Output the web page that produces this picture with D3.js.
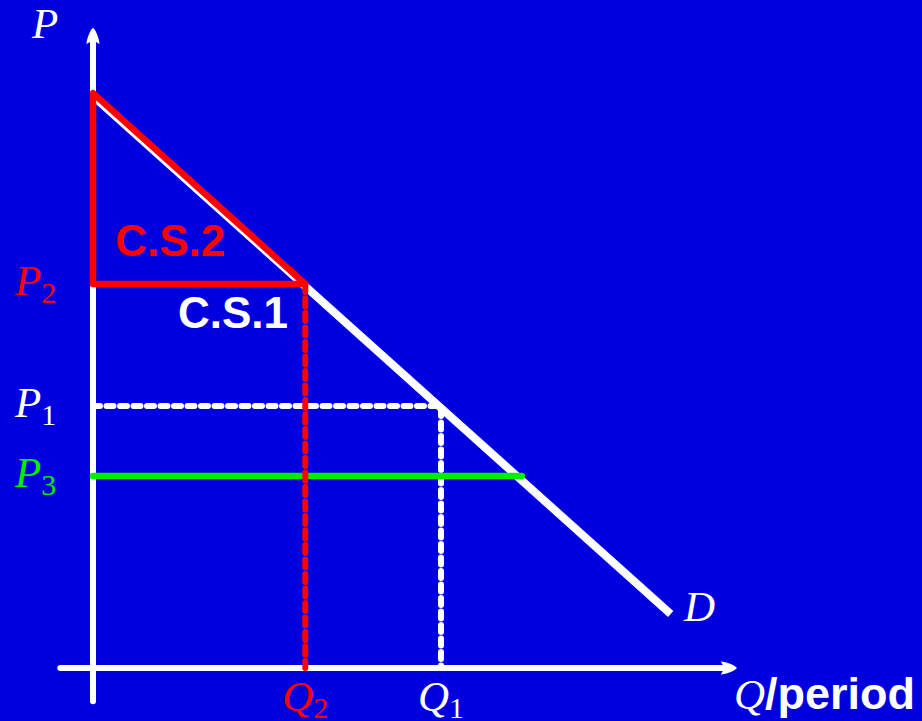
<!DOCTYPE html>
<html>
<head>
<meta charset="utf-8">
<script src="https://cdn.jsdelivr.net/npm/d3@7"></script>
<style>
html,body{margin:0;padding:0;background:#0000df;}
svg{display:block;}
</style>
</head>
<body>
<svg id="chart" width="922" height="721"></svg>
<script>
// ---- data ----
const demandQ = [0, 8.3];
const demandP = [14.3, 1.35];
const cs2Q = [0, 0, 3.05];
const cs2P = [14.37, 9.6, 9.6];
const priceNames = ["P1", "P2", "P3"];
const priceValues = [6.55, 9.6, 4.8];
const quantityNames = ["Q1", "Q2"];
const quantityValues = [5, 3.05];
const p3LineEndQ = 6.16;
const areaNames = ["C.S.2", "C.S.1"];
const areaQ = [0.32, 1.22];
const areaP = [10.3, 8.5];
const axisQ = [-0.47, 9.25];
const axisP = [-0.83, 16.0];

// ---- scales ----
const x = d3.scaleLinear().domain([0, 5]).range([93, 441]);
const y = d3.scaleLinear().domain([0, 16]).range([668, 28]);

const svg = d3.select("#chart");
svg.append("rect").attr("width", 922).attr("height", 721).attr("fill", "#0000df");

const WHITE = "#ffffff", RED = "#ff0000", GREEN = "#00ee00";
const serif = "'Liberation Serif','Times New Roman',serif";
const sans = "'Liberation Sans',Arial,sans-serif";

const line = d3.line().x(d => x(d[0])).y(d => y(d[1]));

// axes
svg.append("line").attr("x1", x(0)).attr("x2", x(0))
  .attr("y1", y(axisP[0])).attr("y2", y(axisP[1]) + 12)
  .attr("stroke", WHITE).attr("stroke-width", 6).attr("stroke-linecap", "round");
svg.append("line").attr("x1", x(axisQ[0])).attr("x2", x(axisQ[1]) - 12)
  .attr("y1", y(0)).attr("y2", y(0))
  .attr("stroke", WHITE).attr("stroke-width", 6).attr("stroke-linecap", "round");
const arrowPath = "M0,0 C2,0 6.5,11 6.5,16 L3,14 L-3,14 L-6.5,16 C-6.5,11 -2,0 0,0 Z";
svg.append("path").attr("d", arrowPath).attr("fill", WHITE)
  .attr("transform", `translate(${x(0)},${y(axisP[1])})`);
svg.append("path").attr("d", arrowPath).attr("fill", WHITE)
  .attr("transform", `translate(${x(axisQ[1])},${y(0)}) rotate(90)`);

// demand line
svg.append("path").datum(demandQ.map((q, i) => [q, demandP[i]]))
  .attr("d", line).attr("fill", "none").attr("stroke", WHITE)
  .attr("stroke-width", 8).attr("stroke-linecap", "butt");

// white dashed P1/Q1
const p1 = priceValues[0], q1 = quantityValues[0];
svg.append("path").datum([[0, p1], [q1, p1], [q1, 0]])
  .attr("d", line).attr("fill", "none").attr("stroke", WHITE)
  .attr("stroke-width", 6).attr("stroke-dasharray", "7 6.5").attr("stroke-linecap", "round");

// green P3 line
const p3 = priceValues[2];
svg.append("path").datum([[0, p3], [p3LineEndQ, p3]])
  .attr("d", line).attr("fill", "none").attr("stroke", GREEN)
  .attr("stroke-width", 6.5).attr("stroke-linecap", "round");

// red dashed Q2
const p2 = priceValues[1], q2 = quantityValues[1];
svg.append("path").datum([[q2, p2], [q2, 0]])
  .attr("d", line).attr("fill", "none").attr("stroke", RED)
  .attr("stroke-width", 6).attr("stroke-dasharray", "8 6.5").attr("stroke-linecap", "round");

// red CS2 triangle
svg.append("path").datum(cs2Q.map((q, i) => [q, cs2P[i]]))
  .attr("d", d => line(d) + "Z").attr("fill", "none").attr("stroke", RED)
  .attr("stroke-width", 6.5).attr("stroke-linejoin", "round");

// price labels
const priceColors = [WHITE, RED, GREEN];
priceNames.forEach((n, i) => {
  const t = svg.append("text").attr("x", 15).attr("y", y(priceValues[i]) + 11)
    .attr("fill", priceColors[i]).attr("font-family", serif);
  t.append("tspan").attr("font-style", "italic").attr("font-size", 43).text(n[0]);
  t.append("tspan").attr("font-size", 30).attr("dy", 8).text(n.slice(1));
});

// quantity labels
const qColors = [WHITE, RED];
quantityNames.forEach((n, i) => {
  const t = svg.append("text").attr("x", x(quantityValues[i]) - 23).attr("y", 711)
    .attr("fill", qColors[i]).attr("font-family", serif);
  t.append("tspan").attr("font-style", "italic").attr("font-size", 43).text(n[0]);
  t.append("tspan").attr("font-size", 30).attr("dy", 7).text(n.slice(1));
});

// area labels
const areaColors = [RED, WHITE];
areaNames.forEach((n, i) => {
  svg.append("text").attr("x", x(areaQ[i])).attr("y", y(areaP[i]))
    .attr("fill", areaColors[i]).attr("font-family", sans).attr("font-weight", "bold")
    .attr("font-size", 44).text(n);
});

// axis titles
svg.append("text").attr("x", 32).attr("y", 38).attr("fill", WHITE)
  .attr("font-family", serif).attr("font-style", "italic").attr("font-size", 43).text("P");
svg.append("text").attr("x", 684).attr("y", 621).attr("fill", WHITE)
  .attr("font-family", serif).attr("font-style", "italic").attr("font-size", 43).text("D");
const qt = svg.append("text").attr("x", 734).attr("y", 709).attr("fill", WHITE);
qt.append("tspan").attr("font-family", serif).attr("font-style", "italic").attr("font-size", 43).text("Q");
qt.append("tspan").attr("font-family", sans).attr("font-weight", "bold").attr("font-size", 45).text("/period");
</script>
</body>
</html>
